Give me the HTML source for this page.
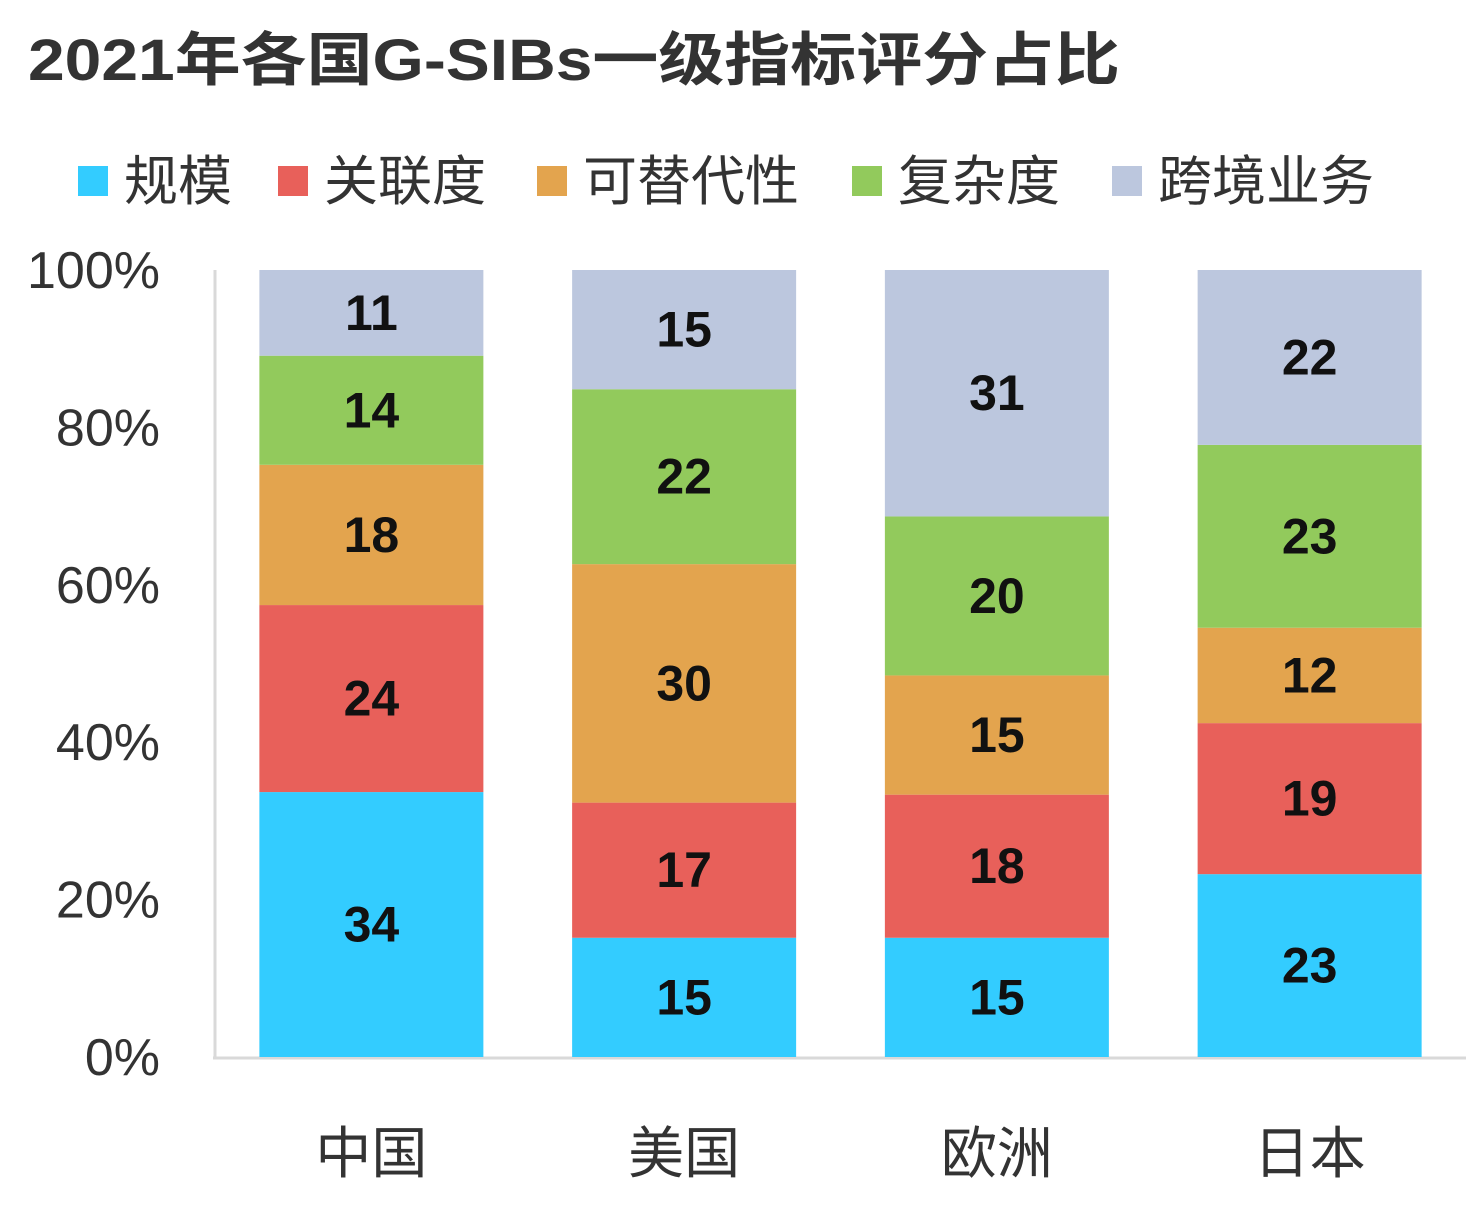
<!DOCTYPE html>
<html><head><meta charset="utf-8"><style>
body{margin:0;background:#fff}
text{font-family:"Liberation Sans","Noto Sans CJK SC",sans-serif}
</style></head><body>
<svg id="chart" width="1466" height="1210" xmlns="http://www.w3.org/2000/svg">
<text x="28" y="80" font-size="58" font-weight="bold" fill="#333" textLength="1092" lengthAdjust="spacingAndGlyphs">2021年各国G-SIBs一级指标评分占比</text>
<g id="legend"></g>
<g id="axes"></g>
<g id="bars"></g>
</svg>
<script>
const categories = ["中国","美国","欧洲","日本"];
const seriesNames = ["规模","关联度","可替代性","复杂度","跨境业务"];
const seriesColors = ["#33CCFF","#E8605A","#E3A44E","#92CA5C","#BCC7DE"];
const scale = [34,15,15,23];
const interconnect = [24,17,18,19];
const substitut = [18,30,15,12];
const complexity = [14,22,20,23];
const crossBorder = [11,15,31,22];
const yTicks = ["0%","20%","40%","60%","80%","100%"];
const series = [scale, interconnect, substitut, complexity, crossBorder];

const NS="http://www.w3.org/2000/svg";
const svg=document.getElementById('chart');
const x0=215, x1=1466, yBase=1057, yTop=270;
const y=v=>yBase-(yBase-yTop)*v/100;
const band=(x1-x0)/categories.length, bw=224;
function mk(tag,attrs,parent,txt){const e=document.createElementNS(NS,tag);for(const k in attrs)e.setAttribute(k,attrs[k]);if(txt!==undefined)e.textContent=txt;parent.appendChild(e);return e;}

const axes=document.getElementById('axes');
const yl=mk('line',{x1:x0,y1:yTop,x2:x0,y2:yBase+1,stroke:'#d9d9d9','stroke-width':3},axes);


const xl=mk('line',{x1:x0-2,y1:yBase+1,x2:x1,y2:yBase+1,stroke:'#d9d9d9','stroke-width':3},axes);


yTicks.forEach((t,i)=>{
  const e=mk('text',{x:160,y:y(i*20)+18,'font-size':52,fill:'#333','text-anchor':'end'},axes,t);
  
  
});
categories.forEach((c,i)=>{
  const e=mk('text',{x:x0+band*(i+0.5),y:1173,'font-size':56,fill:'#333','text-anchor':'middle'},axes,c);
  
  
});

const bars=document.getElementById('bars');
categories.forEach((c,i)=>{
  const total=series.reduce((s,a)=>s+a[i],0);
  let cum=0;
  const cx=x0+band*(i+0.5);
  series.forEach((arr,j)=>{
    const v=arr[i]/total*100;
    const yt=y(cum+v), yb=y(cum);
    const r=mk('rect',{x:cx-bw/2,y:yt,width:bw,height:yb-yt,fill:seriesColors[j]},bars);
    
    
    const t=mk('text',{x:cx,y:(yt+yb)/2+17,'font-size':50,'font-weight':'bold',fill:'#111','text-anchor':'middle'},bars,arr[i]);
    
    
    cum+=v;
  });
});

const legend=document.getElementById('legend');
const lx=[78,278,537,852,1112];
seriesNames.forEach((n,j)=>{
  const r=mk('rect',{x:lx[j],y:166,width:30,height:30,fill:seriesColors[j]},legend);
  
  
  const t=mk('text',{x:lx[j]+46,y:200,'font-size':54,fill:'#333'},legend,n);
  
  
});
</script>
</body></html>
